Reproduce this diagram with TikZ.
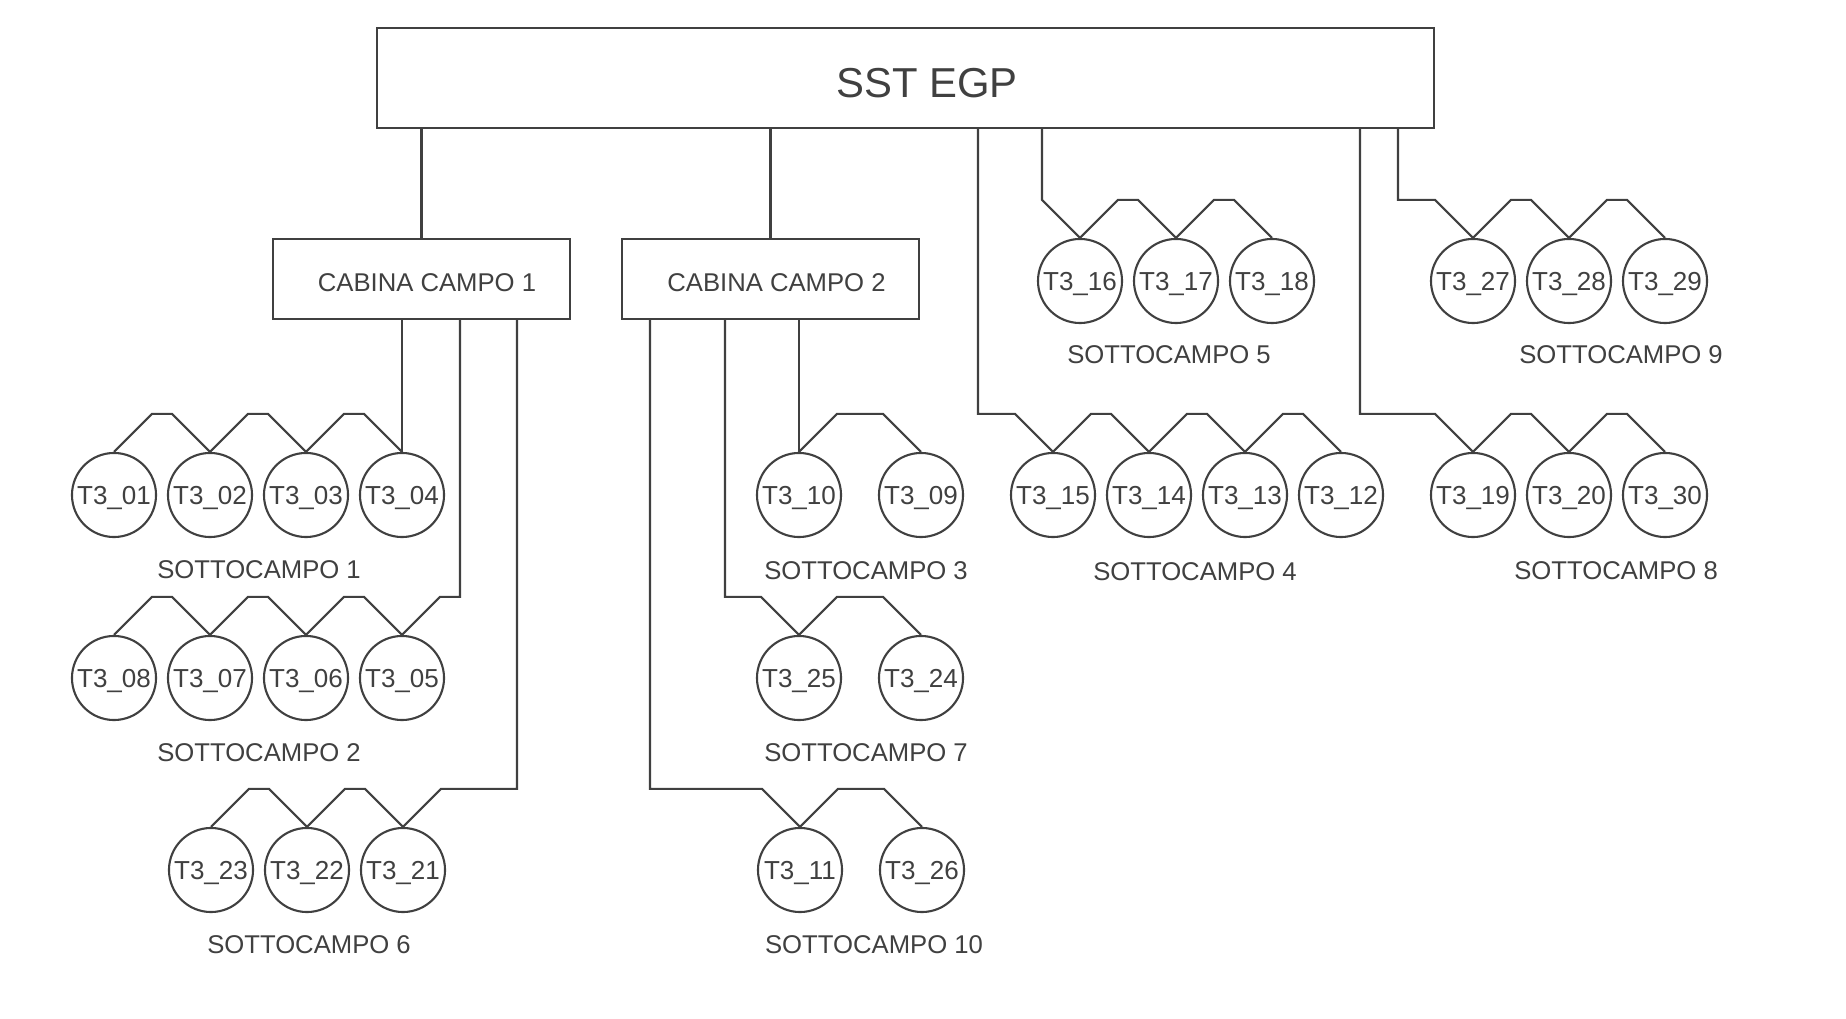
\documentclass[tikz,border=0pt]{standalone}
\usepackage{fontspec}
\setmainfont{Liberation Sans}
\usepackage{tikz}
\usetikzlibrary{calc,positioning,shapes}
\definecolor{ink}{HTML}{404040}

\tikzset{
  wire/.style={draw=ink, line width=0.6pt},
  bigbox/.style={draw=ink, line width=0.6pt, rectangle, inner sep=0pt,
    minimum width=10.57cm, minimum height=1cm},
  cabbox/.style={draw=ink, line width=0.6pt, rectangle, inner sep=0pt,
    minimum width=2.97cm, minimum height=0.8cm},
  tcirc/.style={draw=ink, line width=0.6pt, circle, inner sep=0pt,
    minimum size=0.84cm, text=ink,
    font=\fontsize{7.4}{8.8}\selectfont, text height=5.3pt, text depth=0pt},
  sclabel/.style={text=ink, inner sep=0pt,
    font=\fontsize{7.3}{8.8}\selectfont, text height=5.2pt, text depth=0pt}
}

\begin{document}
\begin{tikzpicture}
  [x=0.01cm, y=-0.01cm]

  \useasboundingbox (0,0) rectangle (1846,1019);

  % main station and field cabins
  \node [bigbox] (sstBox) at (905.5,78) {};
  \node [text=ink, inner sep=0pt, font=\fontsize{11.9}{14}\selectfont,
    text height=8.5pt, text depth=0pt] (sstText) at (927,83) {SST EGP};

  \node [cabbox] (cabinaA) at (421.5,279) {};
  \node [sclabel] (cabinaAText) at (427,282) {CABINA CAMPO 1};
  \node [cabbox] (cabinaB) at (770.5,279) {};
  \node [sclabel] (cabinaBText) at (776.5,282) {CABINA CAMPO 2};

  \draw [wire] (sstBox.south -| cabinaA.north) -- (cabinaA.north);
  \draw [wire] (sstBox.south -| cabinaB.north) -- (cabinaB.north);

  % taps on the bottom of the boxes
  \coordinate (tapA2) at (460,319);
  \coordinate (tapA3) at (517,319);
  \coordinate (tapB1) at (650,319);
  \coordinate (tapB2) at (725,319);
  \coordinate (tapS3) at (978,128);
  \coordinate (tapS4) at (1042,128);
  \coordinate (tapS5) at (1360,128);
  \coordinate (tapS6) at (1398,128);

  % transformers
  \foreach \name/\x/\y in {01/114/495, 02/210/495, 03/306/495, 04/402/495,
      08/114/678, 07/210/678, 06/306/678, 05/402/678,
      23/211/870, 22/307/870, 21/403/870,
      10/799/495, 09/921/495,
      25/799/678, 24/921/678,
      11/800/870, 26/922/870,
      15/1053/495, 14/1149/495, 13/1245/495, 12/1341/495,
      16/1080/281, 17/1176/281, 18/1272/281,
      27/1473/281, 28/1569/281, 29/1665/281,
      19/1473/495, 20/1569/495, 30/1665/495}
    \node [tcirc] (t\name) at (\x,\y) {T3\_\name};

  % chains inside each group
  \foreach \a/\b in {t01/t02, t02/t03, t03/t04,
      t08/t07, t07/t06, t06/t05,
      t23/t22, t22/t21,
      t10/t09, t25/t24, t11/t26,
      t15/t14, t14/t13, t13/t12,
      t16/t17, t17/t18,
      t27/t28, t28/t29,
      t19/t20, t20/t30}
    \draw [wire] (\a.north) -- ++(38,-38) -- ($ (\b.north)+(-38,-38) $) -- (\b.north);

  % feeders
  \draw [wire] (t04.north) -- (t04.north |- cabinaA.south);
  \draw [wire] (t05.north) -- ++(38,-38) -| (tapA2);
  \draw [wire] (t21.north) -- ++(38,-38) -| (tapA3);
  \draw [wire] (t10.north) -- (t10.north |- cabinaB.south);
  \draw [wire] (t25.north) -- ++(-38,-38) -| (tapB2);
  \draw [wire] (t11.north) -- ++(-38,-38) -| (tapB1);
  \draw [wire] (t15.north) -- ++(-38,-38) -| (tapS3);
  \draw [wire] (t16.north) -- ++(-38,-38) -| (tapS4);
  \draw [wire] (t19.north) -- ++(-38,-38) -| (tapS5);
  \draw [wire] (t27.north) -- ++(-38,-38) -| (tapS6);

  % group names
  \node [sclabel] (scA) at (259,569) {SOTTOCAMPO 1};
  \node [sclabel] (scB) at (259,752) {SOTTOCAMPO 2};
  \node [sclabel] (scC) at (866,570) {SOTTOCAMPO 3};
  \node [sclabel] (scD) at (1195,571) {SOTTOCAMPO 4};
  \node [sclabel] (scE) at (1169,354) {SOTTOCAMPO 5};
  \node [sclabel] (scF) at (309,944) {SOTTOCAMPO 6};
  \node [sclabel] (scG) at (866,752) {SOTTOCAMPO 7};
  \node [sclabel] (scH) at (1616,570) {SOTTOCAMPO 8};
  \node [sclabel] (scI) at (1621,354) {SOTTOCAMPO 9};
  \node [sclabel] (scJ) at (874,944) {SOTTOCAMPO 10};

\end{tikzpicture}
\end{document}
